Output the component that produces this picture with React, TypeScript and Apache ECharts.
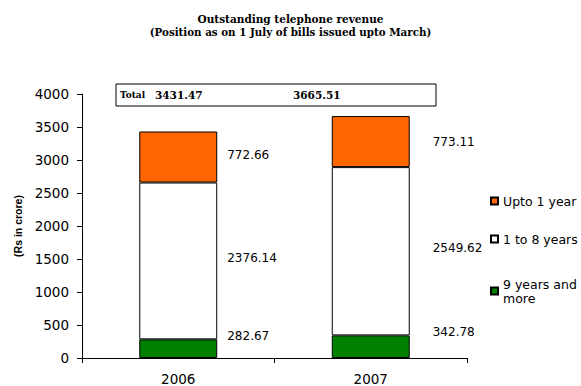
import React, { useEffect, useRef } from "react";
import * as echarts from "echarts";

const categories = ["2006", "2007"];
const nineYearsMore = [282.67, 342.78];
const oneToEight = [2376.14, 2549.62];
const uptoOne = [772.66, 773.11];
const yTicks = { min: 0, max: 4000, interval: 500 };

const seriesNames = ["Upto 1 year", "1 to 8 years", "9 years and\nmore"];

// label offsets (style only)
const offX = [5, 18];
const offY = { green: [-13, -15], white: [-3, -3], orange: [-2, 0] };

export default function App() {
  const ref = useRef<HTMLDivElement>(null);
  useEffect(() => {
    if (!ref.current) return;
    const chart = echarts.init(ref.current, undefined, { renderer: "svg" });
    const totals = categories.map((_, i) =>
      (nineYearsMore[i] + oneToEight[i] + uptoOne[i]).toFixed(2)
    );
    const labelBase = {
      show: true,
      position: "right",
      color: "#000",
      fontFamily: "DejaVu Sans",
      fontSize: 12,
    };
    const mk = (vals: number[], oy: number[]) =>
      vals.map((v, i) => ({
        value: v,
        label: { offset: [offX[i], oy[i]], formatter: v.toFixed(2) },
      }));
    const border = { borderColor: "#000", borderWidth: 1 };
    chart.setOption({
      animation: false,
      backgroundColor: "#fff",
      title: {
        text: "Outstanding telephone revenue",
        subtext: "(Position as on 1 July of bills issued upto March)",
        left: "center",
        top: 8,
        itemGap: 3,
        textStyle: {
          fontFamily: "DejaVu Serif",
          fontWeight: "bold",
          fontSize: 10.5,
          color: "#000",
        },
        subtextStyle: {
          fontFamily: "DejaVu Serif",
          fontWeight: "bold",
          fontSize: 10.3,
          color: "#000",
        },
      },
      grid: { left: 82, right: 114, top: 94, bottom: 25 },
      legend: {
        orient: "vertical",
        left: 490,
        top: 194,
        padding: 0,
        itemWidth: 7,
        itemHeight: 7,
        itemGap: 24,
        icon: "rect",
        data: [
          { name: seriesNames[0] },
          { name: seriesNames[1] },
          { name: seriesNames[2], textStyle: { padding: [14, 0, 0, 0] } },
        ],
        textStyle: {
          fontFamily: "DejaVu Sans",
          fontSize: 12.5,
          color: "#000",
          lineHeight: 14,
        },
      },
      xAxis: {
        type: "category",
        data: categories,
        axisLine: { lineStyle: { color: "#000", width: 1 } },
        axisTick: { show: true, length: 5, lineStyle: { color: "#000" } },
        axisLabel: {
          color: "#000",
          fontFamily: "DejaVu Sans",
          fontSize: 13.5,
          margin: 14,
        },
      },
      yAxis: {
        type: "value",
        min: yTicks.min,
        max: yTicks.max,
        interval: yTicks.interval,
        name: "(Rs in crore)",
        nameLocation: "middle",
        nameGap: 58,
        nameTextStyle: {
          fontFamily: "Liberation Sans",
          fontWeight: "bold",
          fontSize: 10.5,
          color: "#000",
        },
        axisLine: { show: true, lineStyle: { color: "#000", width: 1 } },
        axisTick: { show: true, length: 5, lineStyle: { color: "#000" } },
        splitLine: { show: false },
        axisLabel: {
          color: "#000",
          fontFamily: "DejaVu Sans",
          fontSize: 13.5,
          margin: 13,
          formatter: (v: number) => String(v),
        },
      },
      series: [
        {
          name: seriesNames[2],
          type: "bar",
          stack: "s",
          barWidth: "40.5%",
          itemStyle: { color: "#008000", ...border },
          label: labelBase,
          data: mk(nineYearsMore, offY.green),
        },
        {
          name: seriesNames[1],
          type: "bar",
          stack: "s",
          itemStyle: { color: "#ffffff", ...border },
          label: labelBase,
          data: mk(oneToEight, offY.white),
        },
        {
          name: seriesNames[0],
          type: "bar",
          stack: "s",
          itemStyle: { color: "#ff6600", ...border },
          label: labelBase,
          data: mk(uptoOne, offY.orange),
        },
      ],
      graphic: [
        {
          type: "rect",
          shape: { x: 116, y: 84, width: 320, height: 22 },
          style: { fill: "#fff", stroke: "#000", lineWidth: 1 },
        },
        {
          type: "text",
          x: 120,
          y: 95,
          style: {
            text: "Total",
            fontFamily: "DejaVu Serif",
            fontWeight: "bold",
            fontSize: 9,
            fill: "#000",
            verticalAlign: "middle",
          },
        },
        {
          type: "text",
          x: 155,
          y: 95,
          style: {
            text: totals[0],
            fontFamily: "DejaVu Serif",
            fontWeight: "bold",
            fontSize: 10.5,
            fill: "#000",
            verticalAlign: "middle",
          },
        },
        {
          type: "text",
          x: 293,
          y: 95,
          style: {
            text: totals[1],
            fontFamily: "DejaVu Serif",
            fontWeight: "bold",
            fontSize: 10.5,
            fill: "#000",
            verticalAlign: "middle",
          },
        },
      ],
    });
    return () => chart.dispose();
  }, []);
  return (
    <div
      ref={ref}
      style={{ position: "fixed", left: 0, top: 0, width: 581, height: 386 }}
    />
  );
}
